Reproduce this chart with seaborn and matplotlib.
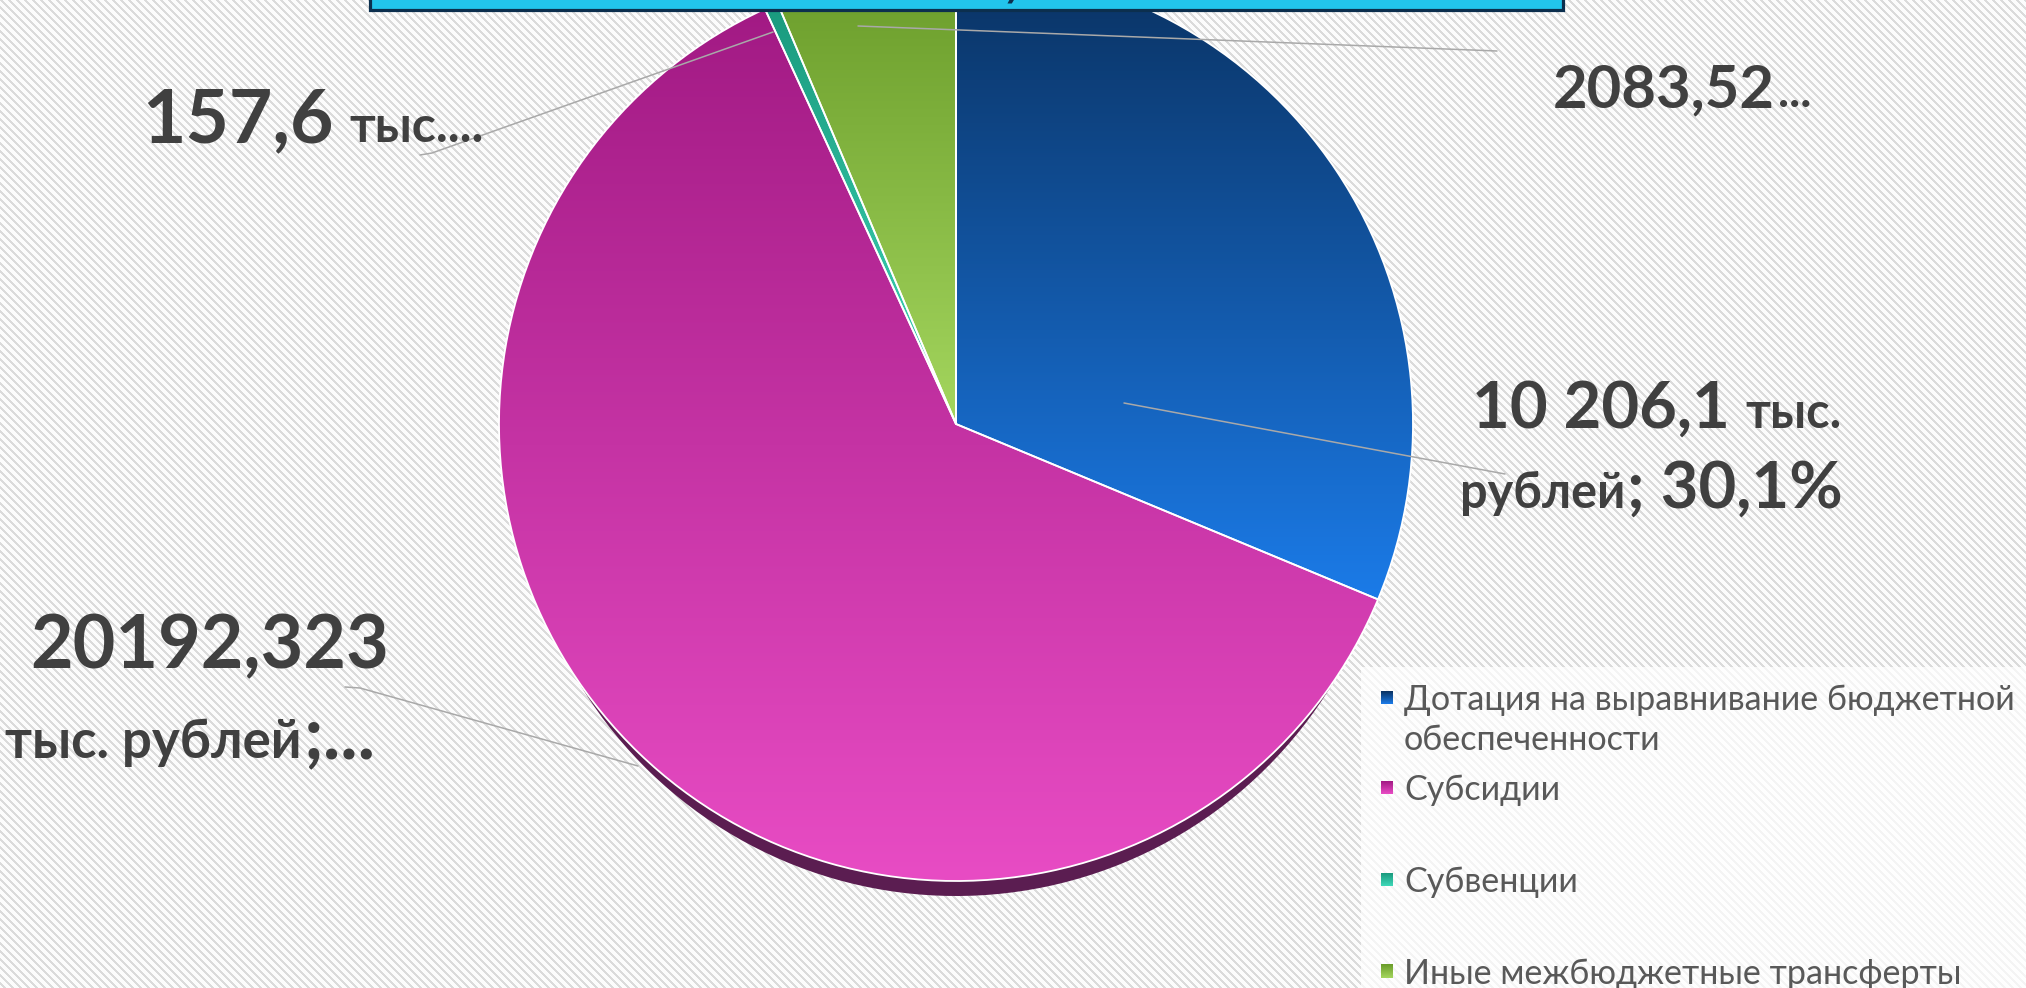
import numpy as np
import matplotlib
matplotlib.use('Agg')
import matplotlib.pyplot as plt
import seaborn as sns
from matplotlib.patches import Wedge, Rectangle
from matplotlib.colors import to_rgb

# ---------------- data ----------------
categories = ['Дотация на выравнивание бюджетной\nобеспеченности',
              'Субсидии', 'Субвенции', 'Иные межбюджетные трансферты']
values = [10206.1, 20192.323, 157.6, 2083.52]
top_colors = ['#0a3262', '#a21a84', '#1a9a7e', '#6a9c2a']
bottom_colors = ['#1b7be8', '#e84cc4', '#3fd8b8', '#a4d65e']

# data label runs: (text, size-class, gap before in px) per line
label_dotacia = [[('10 206,1', 'L', 0), ('тыс.', 'S', 16)], [('рублей', 'S', 0), ('; 30,1%', 'L', 2)]]
label_subsid = [[('20192,323', 'L', 0)], [('тыс. рублей', 'S', 0), (';...', 'L', 2)]]
label_subven = [[('157,6', 'L', 0), ('тыс....', 'S', 16)]]
label_inye = [[('2083,52', 'L', 0), ('...', 'S', 3)]]

sns.set_theme(style='white')
FAM = ['Lato', 'DejaVu Sans']
plt.rcParams['font.family'] = FAM

W, H = 2026, 988
fig = plt.figure(figsize=(W / 100, H / 100), dpi=100)

# striped background
yy, xx = np.mgrid[0:H, 0:W]
stripe = ((xx - yy) % 8) < 3
bg = np.where(stripe[..., None], np.array([0.86, 0.86, 0.86]), np.array([0.99, 0.99, 0.99]))
fig.figimage(bg, xo=0, yo=0, zorder=-10, origin='upper')

ax = fig.add_axes([0, 0, 1, 1])
ax.patch.set_visible(False)
ax.axis('off')

def P(x, ytop):
    return x, H - ytop

cx, cy = P(956, 424)
R = 457
wedges, _ = ax.pie(values, startangle=90, counterclock=False, radius=R, center=(cx, cy),
                   wedgeprops=dict(edgecolor='white', linewidth=1.3, zorder=3))
ax.set_xlim(0, W)
ax.set_ylim(0, H)

# shadow below the big wedge
pw = wedges[1]
sh = Wedge((pw.center[0], pw.center[1] - 32), pw.r - 17, pw.theta1, pw.theta2,
           facecolor='#5b1d51', edgecolor='none', zorder=1)
ax.add_patch(sh)

def gradient(c_top, c_bot, n=256):
    t = np.linspace(0, 1, n)[:, None]
    g = (1 - t) * np.array(to_rgb(c_bot)) + t * np.array(to_rgb(c_top))
    return g[:, None, :]

for w, c0, c1 in zip(wedges, top_colors, bottom_colors):
    ext = w.get_path().get_extents()
    img = ax.imshow(gradient(c0, c1), extent=[ext.x0, ext.x1, ext.y0, ext.y1],
                    origin='lower', aspect='auto', interpolation='bilinear', zorder=2)
    img.set_clip_path(w)
    w.set_facecolor('none')

ax.set_xlim(0, W)
ax.set_ylim(0, H)
ax.set_aspect('auto')

# leader lines
lc = '#a9a9a9'
for pts in ([(858, 26), (1497, 51)],
            [(773, 32), (432, 153), (420, 155)],
            [(1124, 403), (1505, 474)],
            [(345, 687), (360, 688), (638, 766)]):
    xs = [p[0] for p in pts]
    ys = [H - p[1] for p in pts]
    ax.plot(xs, ys, color=lc, lw=1.1, zorder=4, solid_capstyle='round')

# title box (cut at top)
ax.add_patch(Rectangle(P(370, 10), 1563 - 370, 40, facecolor='#22c4ec',
                       edgecolor='#0c2f4e', lw=2.3, zorder=6, clip_on=False))
ax.text(1013, H + 4, ')', fontsize=40, color='#0c2f4e', ha='center', va='baseline',
        zorder=7, family=['DejaVu Sans'])

renderer = fig.canvas.get_renderer()
TXT = '#404040'

def runs(lines, left_xs, baselines, L, S):
    for line, x0, b in zip(lines, left_xs, baselines):
        x = x0
        for s, cls, gap in line:
            x += gap
            t = ax.text(x, H - b, s, fontsize=L if cls == 'L' else S, fontweight='bold',
                        color=TXT, ha='left', va='baseline', zorder=8)
            bb = t.get_window_extent(renderer)
            x = bb.x1

runs(label_dotacia, [1472, 1460], [428, 508], 47, 35)
runs(label_subsid, [30, 5], [668, 758], 53, 38)
runs(label_subven, [142], [142], 54, 36)
runs(label_inye, [1553], [107], 43, 34)

# legend panel
ax.add_patch(Rectangle(P(1361, 988), W - 1361, 988 - 667, facecolor='white', alpha=0.72,
                       edgecolor='none', zorder=5))
leg_y = [698, 788, 880, 972]
for lab, yc, c0, c1 in zip(categories, leg_y, top_colors, bottom_colors):
    ax.imshow(gradient(c0, c1, 32), extent=[1381, 1393, H - (yc + 6), H - (yc - 7)],
              origin='lower', aspect='auto', interpolation='bilinear', zorder=6)
    for k, line in enumerate(lab.split('\n')):
        ax.text(1404, H - (yc + 12 + 40 * k), line, fontsize=24.6, color='#595959',
                ha='left', va='baseline', zorder=7)

ax.set_xlim(0, W)
ax.set_ylim(0, H)
ax.set_aspect('auto')
fig.savefig('out.png', dpi=100)
